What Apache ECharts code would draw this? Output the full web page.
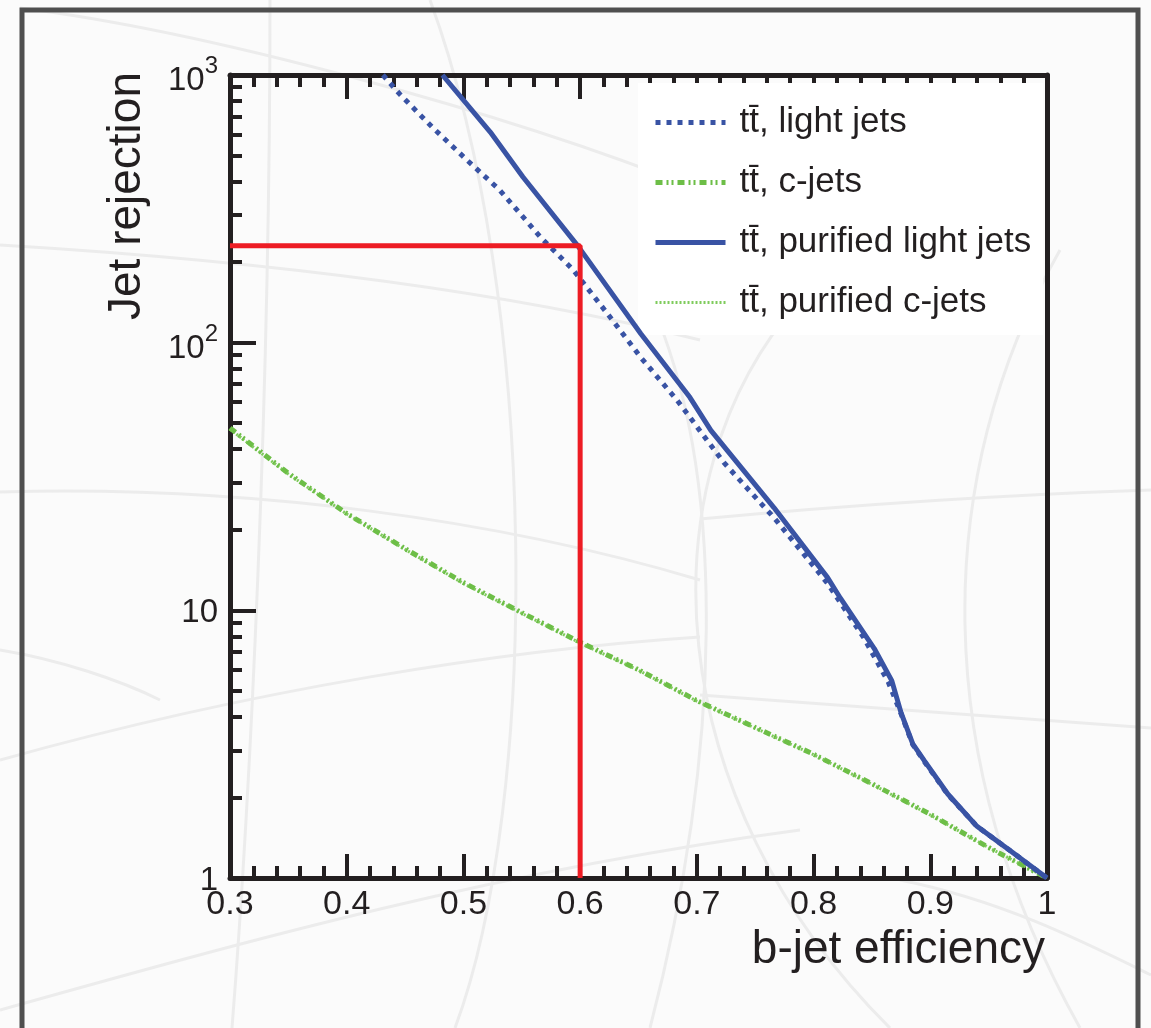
<!DOCTYPE html>
<html><head><meta charset="utf-8">
<script src="https://cdn.jsdelivr.net/npm/echarts@6/dist/echarts.min.js"></script>
<style>html,body{margin:0;padding:0;background:#fbfbfb}#c{width:1151px;height:1028px}</style>
</head><body><div id="c"></div>
<script>
// ---- data ----
const seriesNames = ['t\u0074\u0304, light jets', 't\u0074\u0304, c-jets', 't\u0074\u0304, purified light jets', 't\u0074\u0304, purified c-jets'];

const effLight = [0.431, 0.446, 0.474, 0.503, 0.531, 0.566, 0.594, 0.623, 0.652, 0.683, 0.723, 0.766, 0.803, 0.812, 0.843, 0.864, 0.875, 0.885, 0.895, 0.915, 0.940, 0.970, 1.0];
const rejLight = [1000, 843, 634, 481, 372, 248, 187, 129, 88, 61, 35.7, 22.2, 14.1, 12.6, 7.9, 5.4, 4.1, 3.15, 2.72, 2.05, 1.56, 1.25, 1.0];

const effC = [0.30, 0.35, 0.40, 0.45, 0.50, 0.55, 0.60, 0.65, 0.70, 0.75, 0.80, 0.85, 0.90, 0.95, 1.0];
const rejC = [48, 32.5, 23, 17, 12.7, 9.8, 7.6, 6.0, 4.6, 3.65, 2.9, 2.25, 1.73, 1.3, 1.0];

const effPurLight = [0.482, 0.523, 0.551, 0.598, 0.652, 0.694, 0.712, 0.766, 0.812, 0.823, 0.852, 0.867, 0.875, 0.885, 0.895, 0.915, 0.940, 0.970, 1.0];
const rejPurLight = [1000, 612, 416, 230, 108, 62.5, 47, 24.2, 13.25, 11.1, 7.2, 5.46, 4.14, 3.17, 2.74, 2.06, 1.56, 1.25, 1.0];

const effPurC = [0.30, 0.35, 0.40, 0.45, 0.50, 0.55, 0.60, 0.65, 0.70, 0.75, 0.80, 0.85, 0.90, 0.95, 1.0];
const rejPurC = [47.5, 32.3, 22.9, 16.9, 12.6, 9.75, 7.55, 5.97, 4.58, 3.63, 2.89, 2.24, 1.72, 1.3, 1.0];

// working point (red guide lines)
const wpEff = [0.3, 0.6, 0.6];
const wpRej = [230, 230, 1];

// ticks
const yMajorTicks = [1, 10, 100, 1000];
const yLabelBase = ['1', '10', '10', '10'];
const yLabelExp = ['', '', '2', '3'];
const yMinorTicks = [2,3,4,5,6,7,8,9,20,30,40,50,60,70,80,90,200,300,400,500,600,700,800,900];
const xMin = 0.3, xMax = 1.0, xStep = 0.1;
const yMin = 1, yMax = 1000;

const zip = (a, b) => a.map((v, i) => [v, b[i]]);

// ---- styling ----
const FONT = '"Liberation Sans", Arial, Helvetica, sans-serif';
const INK = '#231f20';
const BLUE = '#3953a4';
const GREEN = '#6dbe47';
const RED = '#ed1c24';
const FAINT = '#ececec';

const chart = echarts.init(document.getElementById('c'), null, {renderer: 'canvas'});

const xAxisCommon = {
  type: 'value', min: xMin, max: xMax, interval: xStep,
  axisLine: {show: true, onZero: false, lineStyle: {color: INK, width: 5}},
  axisTick: {show: true, inside: true, length: 24, lineStyle: {color: INK, width: 4}},
  minorTick: {show: true, splitNumber: 5, length: 12, lineStyle: {color: INK, width: 4}},
  splitLine: {show: false}, minorSplitLine: {show: false}
};

// decorative faint background curves (slide template)
function curve(x1, y1, c1x, c1y, c2x, c2y, x2, y2) {
  return {type: 'bezierCurve', z: -2, silent: true,
    shape: {x1: x1, y1: y1, cpx1: c1x, cpy1: c1y, cpx2: c2x, cpy2: c2y, x2: x2, y2: y2},
    style: {stroke: FAINT, lineWidth: 3, fill: null}};
}
const bg = [
  curve(20, 8, 200, 30, 500, 110, 700, 190),
  curve(0, 245, 250, 260, 500, 290, 700, 340),
  curve(0, 492, 250, 485, 500, 520, 700, 580),
  curve(700, 519, 850, 505, 1000, 495, 1151, 490),
  curve(0, 760, 250, 690, 500, 650, 700, 637),
  curve(700, 695, 850, 705, 1000, 718, 1151, 728),
  curve(800, 300, 640, 480, 660, 800, 890, 1028),
  curve(650, 300, 730, 480, 720, 760, 650, 1028),
  curve(1060, 250, 930, 480, 930, 760, 1080, 1028),
  curve(0, 1010, 250, 940, 500, 870, 800, 830),
  curve(270, 0, 270, 400, 250, 800, 232, 1028),
  curve(430, 0, 540, 300, 540, 800, 455, 1028),
  curve(900, 880, 1000, 900, 1080, 940, 1151, 975),
  curve(0, 650, 60, 660, 120, 680, 160, 700)
];

const option = {
  backgroundColor: '#fbfbfb',
  animation: false,
  grid: {left: 230, top: 75, width: 817, height: 803, containLabel: false},
  xAxis: [
    Object.assign({}, xAxisCommon, {
      position: 'bottom',
      axisLabel: {show: true, margin: 10, fontSize: 34, fontFamily: FONT, color: INK,
        formatter: v => (Math.abs(v - 1) < 1e-9 ? '1' : v.toFixed(1))}
    }),
    Object.assign({}, xAxisCommon, {position: 'top', axisLabel: {show: false}})
  ],
  yAxis: [
    {
      type: 'log', logBase: 10, min: yMin, max: yMax, position: 'left',
      axisLine: {show: true, onZero: false, lineStyle: {color: INK, width: 5}},
      axisTick: {show: true, inside: true, length: 26, customValues: yMajorTicks, lineStyle: {color: INK, width: 4}},
      minorTick: {show: false},
      splitLine: {show: false},
      axisLabel: {
        show: true, margin: 12, customValues: yMajorTicks,
        formatter: function (v) {
          const i = Math.round(Math.log10(v));
          if (yLabelExp[i]) return '{b|' + yLabelBase[i] + '}{s|' + yLabelExp[i] + '}';
          return '{p|' + yLabelBase[i] + '}';
        },
        rich: {
          b: {fontSize: 33, fontFamily: FONT, color: INK, verticalAlign: 'bottom', padding: [12, 0, 0, 0]},
          s: {fontSize: 24, fontFamily: FONT, color: INK, verticalAlign: 'top', padding: [2, 0, 0, 0]},
          p: {fontSize: 33, fontFamily: FONT, color: INK, padding: [6, 0, 0, 0]}
        }
      }
    },
    {
      type: 'log', logBase: 10, min: yMin, max: yMax, position: 'left',
      axisLine: {show: false},
      axisTick: {show: true, inside: true, length: 12, customValues: yMinorTicks, lineStyle: {color: INK, width: 4}},
      axisLabel: {show: false}, splitLine: {show: false}
    },
    {
      type: 'value', min: 0, max: 1, position: 'right',
      axisLine: {show: true, onZero: false, lineStyle: {color: INK, width: 5}},
      axisTick: {show: false}, axisLabel: {show: false}, splitLine: {show: false}
    }
  ],
  legend: {
    orient: 'vertical', left: 638, top: 83, padding: [22, 12, 15, 15],
    backgroundColor: '#ffffff', itemWidth: 70, itemHeight: 12, itemGap: 25,
    itemStyle: {opacity: 0},
    lineStyle: {width: 'inherit'},
    textStyle: {fontSize: 35, fontFamily: FONT, color: INK, padding: [0, 0, 0, 9]},
    data: seriesNames
  },
  series: [
    {
      name: seriesNames[3], type: 'line', data: zip(effPurC, rejPurC), symbol: 'none', z: 1,
      lineStyle: {color: '#7fcb5c', width: 3, type: [2, 2]}, itemStyle: {color: '#7fcb5c'}
    },
    {
      name: seriesNames[1], type: 'line', data: zip(effC, rejC), symbol: 'none', z: 2,
      lineStyle: {color: GREEN, width: 5, type: [7, 4, 2, 3, 2, 4]}, itemStyle: {color: GREEN}
    },
    {
      name: seriesNames[0], type: 'line', data: zip(effLight, rejLight), symbol: 'none', z: 3,
      lineStyle: {color: BLUE, width: 5, type: [5, 6]}, itemStyle: {color: BLUE}
    },
    {
      name: seriesNames[2], type: 'line', data: zip(effPurLight, rejPurLight), symbol: 'none', z: 4,
      lineStyle: {color: BLUE, width: 5, type: 'solid'}, itemStyle: {color: BLUE}
    },
    {
      name: 'working point', type: 'line', data: zip(wpEff, wpRej), symbol: 'none', z: 5,
      lineStyle: {color: RED, width: 5}, itemStyle: {color: RED}, silent: true
    }
  ],
  graphic: bg.concat([
    {type: 'polyline', z: -1, shape: {points: [[22, 1030], [22, 10], [1138, 10], [1138, 1030]]},
      style: {stroke: '#4f4f4f', lineWidth: 5, fill: null}},
    {type: 'text', x: 127, y: 72, rotation: Math.PI / 2,
      style: {text: 'Jet rejection', fontSize: 46, fontFamily: FONT, fill: INK, align: 'right', verticalAlign: 'middle'}},
    {type: 'text', x: 1045, y: 950,
      style: {text: 'b-jet efficiency', fontSize: 46, fontFamily: FONT, fill: INK, align: 'right', verticalAlign: 'middle'}}
  ])
};
chart.setOption(option);
</script>
</body></html>
